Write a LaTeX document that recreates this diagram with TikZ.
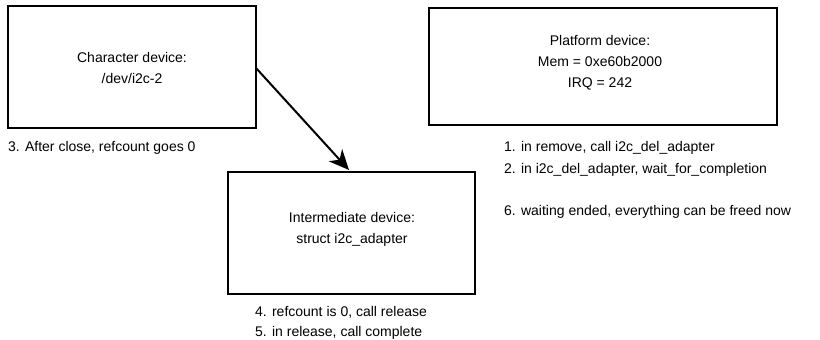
\documentclass[tikz,border=0pt]{standalone}
\usepackage{fontspec}
\setmainfont{Liberation Sans}
\usetikzlibrary{arrows.meta}
\begin{document}
\begin{tikzpicture}[x=1pt,y=-1pt,
  box/.style={draw=black,line width=2pt},
  lbl/.style={font=\fontsize{14}{21}\selectfont,inner sep=0pt},
  ctr/.style={font=\fontsize{14}{21}\selectfont,align=center,inner sep=0pt}]
\useasboundingbox (0,0) rectangle (820,340);
\draw[box] (8,6) rectangle (256,128);
\draw[box] (429,8) rectangle (777,125);
\draw[box] (228,172) rectangle (475,294);
\node[ctr] (cd) at (132,68) {Character device:\\/dev/i2c-2};
\node[ctr] (pd) at (600,63) {Platform device:\\Mem = 0xe60b2000\\IRQ = 242};
\node[ctr] (id) at (352,229) {Intermediate device:\\struct i2c\_adapter};
\coordinate (a1) at (256,68);
\coordinate (a2) at (349,170);
\draw[line width=2pt,-{Stealth[length=20pt,width=18pt,inset=6pt]}] (a1) -- (a2);
\node[lbl,anchor=west] (t3) at (8,148) {3. After close, refcount goes 0};
\node[lbl,anchor=west] (t1) at (504,148) {1. in remove, call i2c\_del\_adapter};
\node[lbl,anchor=west] (t2) at (504,170) {2. in i2c\_del\_adapter, wait\_for\_completion};
\node[lbl,anchor=west] (t6) at (504,212) {6. waiting ended, everything can be freed now};
\node[lbl,anchor=west] (t4) at (255,312) {4. refcount is 0, call release};
\node[lbl,anchor=west] (t5) at (255,333) {5. in release, call complete};
\end{tikzpicture}
\end{document}
